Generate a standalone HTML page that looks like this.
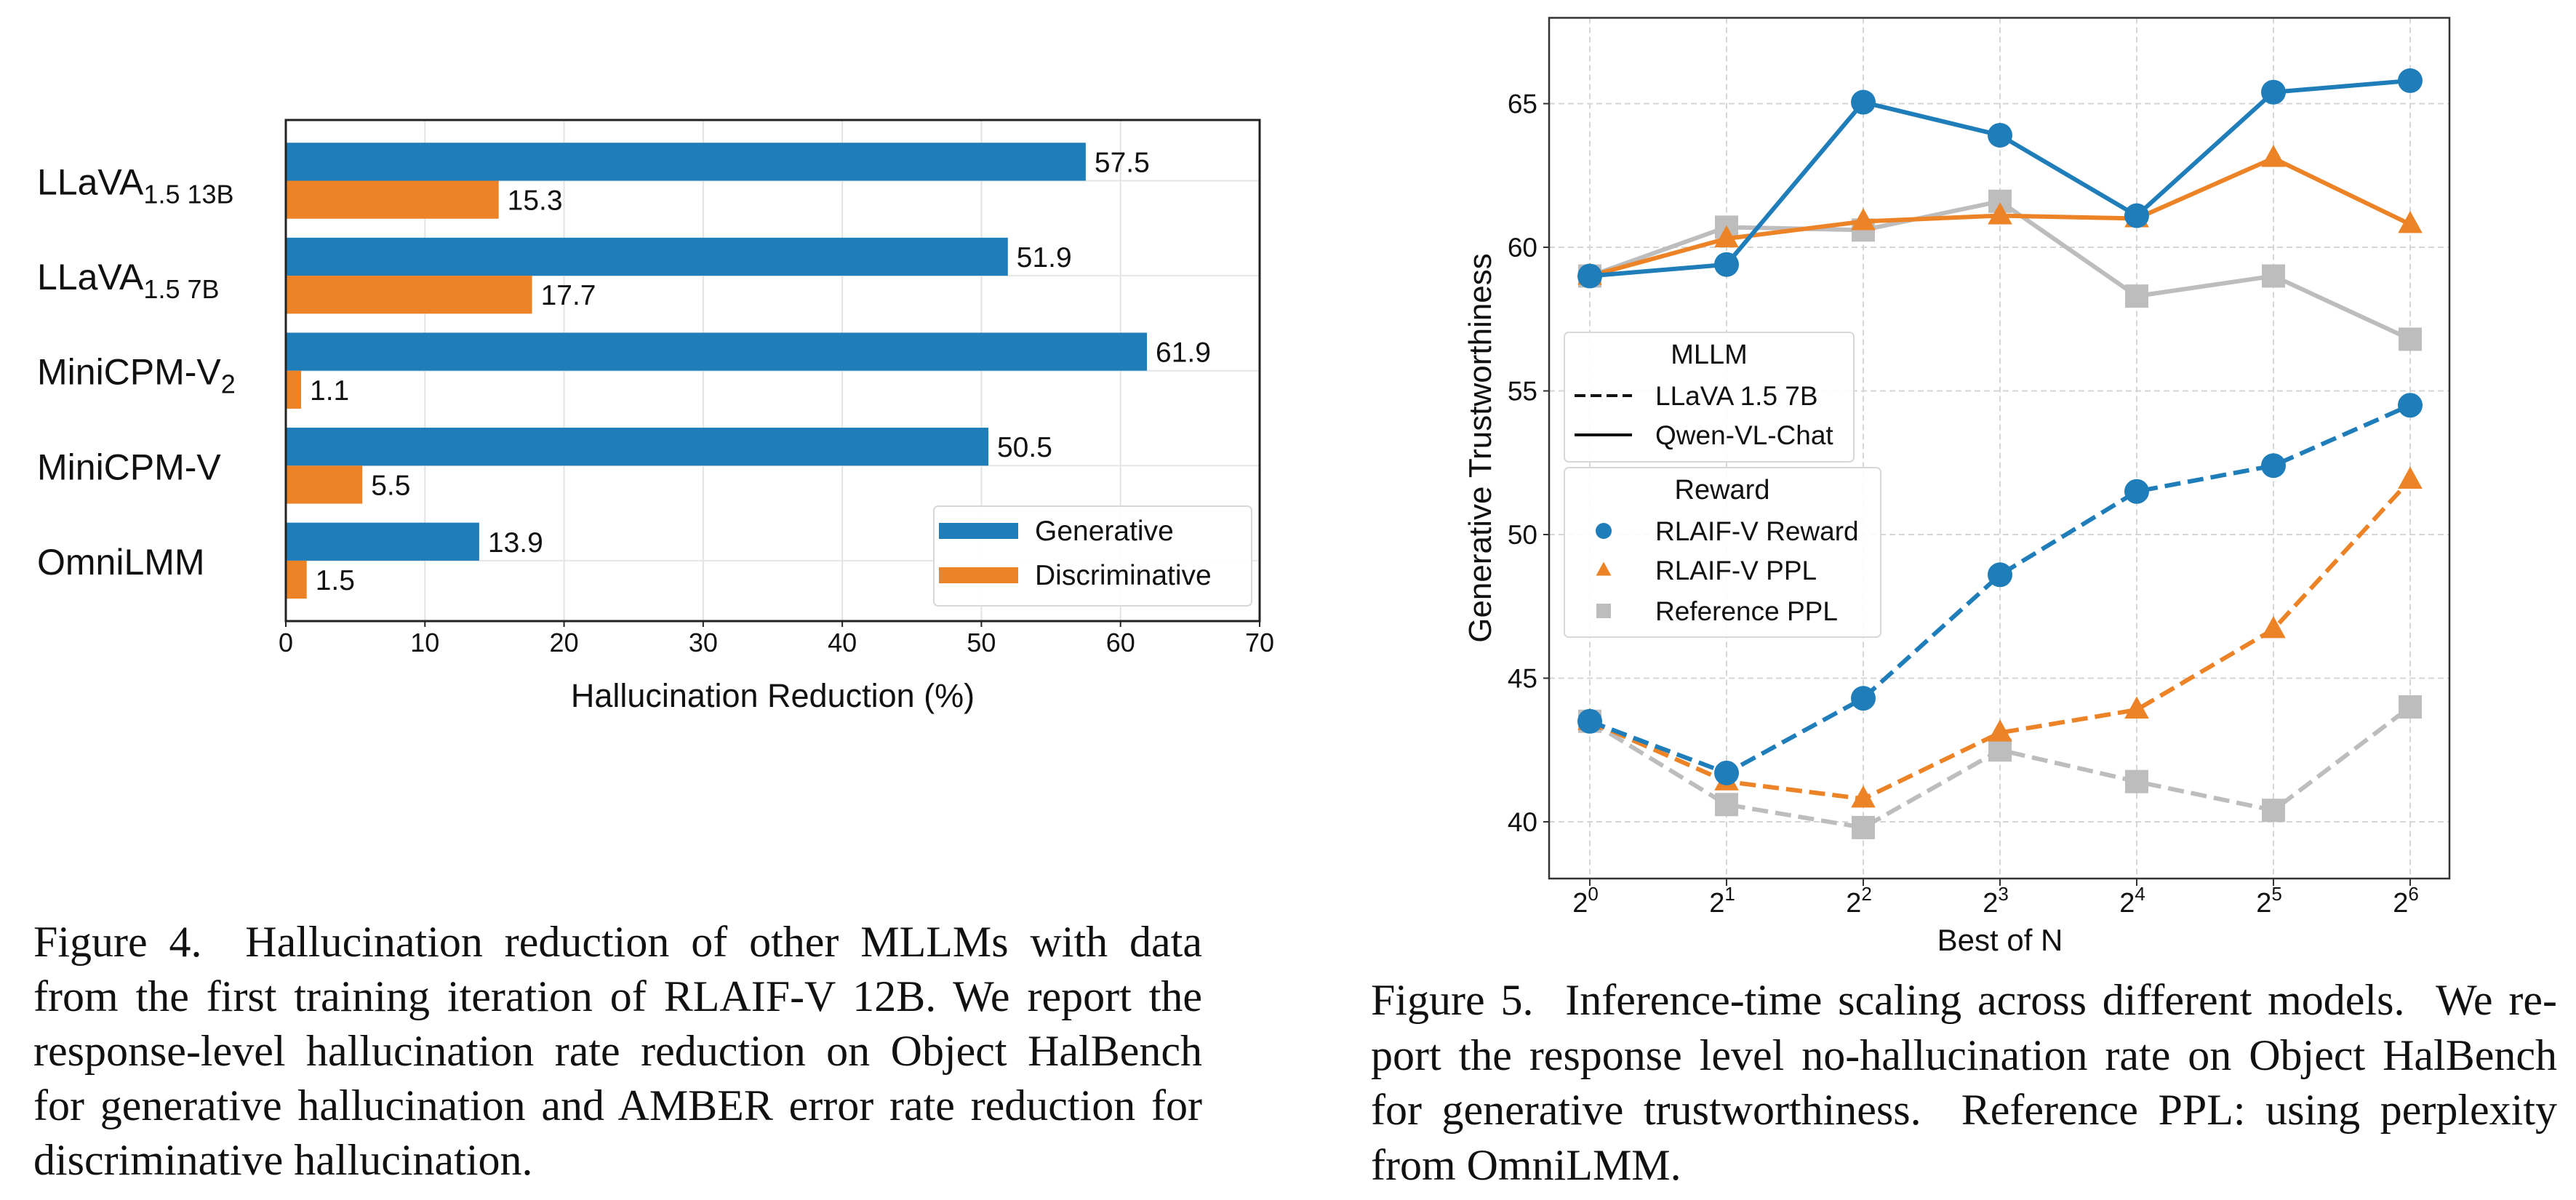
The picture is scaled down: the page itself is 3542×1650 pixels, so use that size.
<!DOCTYPE html>
<html><head><meta charset="utf-8">
<style>
html,body{margin:0;padding:0;background:#fff;}
body{width:3542px;height:1650px;position:relative;overflow:hidden;}
svg{position:absolute;left:0;top:0;}
.cap{position:absolute;font-family:"Liberation Serif",serif;color:#111;}
.cap div{white-space:nowrap;}
.cap .j{text-align:justify;text-align-last:justify;white-space:normal;}
</style></head>
<body>
<svg id="chart" width="3542" height="1650" xmlns="http://www.w3.org/2000/svg"></svg>

<div class="cap" style="left:46px;top:1258px;width:1607px;font-size:60px;line-height:75px;">
<div class="j">Figure 4.&nbsp; Hallucination reduction of other MLLMs with data</div>
<div class="j">from the first training iteration of RLAIF-V 12B. We report the</div>
<div class="j">response-level hallucination rate reduction on Object HalBench</div>
<div class="j">for generative hallucination and AMBER error rate reduction for</div>
<div>discriminative hallucination.</div>
</div>

<div class="cap" style="left:1885px;top:1338px;width:1631px;font-size:60px;line-height:75.5px;">
<div class="j">Figure 5.&nbsp; Inference-time scaling across different models.&nbsp; We re-</div>
<div class="j">port the response level no-hallucination rate on Object HalBench</div>
<div class="j">for generative trustworthiness.&nbsp; Reference PPL: using perplexity</div>
<div>from OmniLMM.</div>
</div>

<script>
// ---------- Figure 4 data ----------
const barCategories = ["LLaVA|1.5 13B", "LLaVA|1.5 7B", "MiniCPM-V|2", "MiniCPM-V|", "OmniLMM|"];
const generativeValues = [57.5, 51.9, 61.9, 50.5, 13.9];
const discriminativeValues = [15.3, 17.7, 1.1, 5.5, 1.5];
const barXTicks = [0, 10, 20, 30, 40, 50, 60, 70];

// ---------- Figure 5 data ----------
const bestOfNExponents = [0, 1, 2, 3, 4, 5, 6];
const yTicks5 = [40, 45, 50, 55, 60, 65];
const qwenReward = [59.0, 59.4, 65.05, 63.9, 61.1, 65.4, 65.8];
const qwenPPL = [59.0, 60.3, 60.9, 61.1, 61.0, 63.1, 60.8];
const qwenRefPPL = [59.0, 60.7, 60.6, 61.6, 58.3, 59.0, 56.8];
const llavaReward = [43.5, 41.7, 44.3, 48.6, 51.5, 52.4, 54.5];
const llavaPPL = [43.5, 41.4, 40.8, 43.1, 43.9, 46.7, 51.9];
const llavaRefPPL = [43.5, 40.6, 39.8, 42.5, 41.4, 40.4, 44.0];

const NS = "http://www.w3.org/2000/svg";
const svg = document.getElementById("chart");
function mk(tag, attrs, parent) {
  const e = document.createElementNS(NS, tag);
  for (const k in attrs) e.setAttribute(k, attrs[k]);
  (parent || svg).appendChild(e);
  return e;
}
const BLUE = "#1f7db9", ORANGE = "#ec8326", GRAY = "#bdbdbd";
const SANS = '"Liberation Sans", "DejaVu Sans", sans-serif';

// ===== Figure 4 =====
const L = {x0: 393, x1: 1732, y0: 165, y1: 854};
const xs4 = v => L.x0 + (v / 70) * (L.x1 - L.x0);
const step4 = 130.6;
const yc4 = i => 248.5 + i * step4;
const bh = 0.4 * step4;

const g4 = mk("g", {});


barXTicks.forEach(t => {
  const l = mk("line", {x1: xs4(t), x2: xs4(t), y1: L.y0, y2: L.y1, stroke: "#e3e3e3", "stroke-width": 2}, g4);
  
  
});
barCategories.forEach((c, i) => {
  const l = mk("line", {x1: L.x0, x2: L.x1, y1: yc4(i), y2: yc4(i), stroke: "#e6e6e6", "stroke-width": 2}, g4);
  
  
});
barCategories.forEach((c, i) => {
  const gb = mk("rect", {x: L.x0, y: yc4(i) - bh, width: xs4(generativeValues[i]) - L.x0, height: bh, fill: BLUE}, g4);
  
  
  const ob = mk("rect", {x: L.x0, y: yc4(i), width: xs4(discriminativeValues[i]) - L.x0, height: bh, fill: ORANGE}, g4);
  
  
  const t1 = mk("text", {x: xs4(generativeValues[i]) + 12, y: yc4(i) - bh / 2 + 14, "font-family": SANS, "font-size": 39, fill: "#111"}, g4);
  t1.textContent = generativeValues[i].toFixed(1);
  
  
  const t2 = mk("text", {x: xs4(discriminativeValues[i]) + 12, y: yc4(i) + bh / 2 + 14, "font-family": SANS, "font-size": 39, fill: "#111"}, g4);
  t2.textContent = discriminativeValues[i].toFixed(1);
  
  
  const parts = c.split("|");
  const ct = mk("text", {x: 51, y: yc4(i) + 19, "font-family": SANS, "font-size": 50, fill: "#111"}, g4);
  
  
  const a = mk("tspan", {}, ct); a.textContent = parts[0];
  if (parts[1]) { const b = mk("tspan", {dy: 12, "font-size": 36}, ct); b.textContent = parts[1]; }
});
const f4 = mk("rect", {x: L.x0, y: L.y0, width: L.x1 - L.x0, height: L.y1 - L.y0, fill: "none", stroke: "#222", "stroke-width": 3}, g4);


barXTicks.forEach(t => {
  mk("line", {x1: xs4(t), x2: xs4(t), y1: L.y1, y2: L.y1 + 8, stroke: "#222", "stroke-width": 2}, g4);
  const tl = mk("text", {x: xs4(t), y: L.y1 + 42, "text-anchor": "middle", "font-family": SANS, "font-size": 36, fill: "#111"}, g4);
  tl.textContent = t;
  
  
});
const xl4 = mk("text", {x: (L.x0 + L.x1) / 2, y: 972, "text-anchor": "middle", "font-family": SANS, "font-size": 45, fill: "#111"}, g4);
xl4.textContent = "Hallucination Reduction (%)";


const lg4 = mk("g", {}, g4);


mk("rect", {x: 1284, y: 696, width: 437, height: 137, rx: 6, fill: "#fff", "fill-opacity": 0.9, stroke: "#d8d8d8", "stroke-width": 2}, lg4);
[["Generative", BLUE, 719], ["Discriminative", ORANGE, 780]].forEach(([n, col, y]) => {
  const e = mk("g", {}, lg4);
  
  
  mk("rect", {x: 1291, y: y, width: 109, height: 22, fill: col}, e);
  const t = mk("text", {x: 1423, y: y + 24, "font-family": SANS, "font-size": 39, fill: "#111"}, e);
  t.textContent = n;
});

// ===== Figure 5 =====
const R = {x0: 2130, x1: 3368, y0: 24.5, y1: 1208};
const xs5 = k => 2186 + k * 188;
const ys5 = v => 1130 - (v - 40) * 39.5;
const g5 = mk("g", {});


bestOfNExponents.forEach(k => {
  const l = mk("line", {x1: xs5(k), x2: xs5(k), y1: R.y0, y2: R.y1, stroke: "#d6d6d6", "stroke-width": 2, "stroke-dasharray": "8,5"}, g5);
  
  
});
yTicks5.forEach(v => {
  const l = mk("line", {x1: R.x0, x2: R.x1, y1: ys5(v), y2: ys5(v), stroke: "#d6d6d6", "stroke-width": 2, "stroke-dasharray": "8,5"}, g5);
  
  
});
function marker(type, cx, cy, col, s, parent) {
  if (type === "circle") return mk("circle", {cx: cx, cy: cy, r: s, fill: col}, parent);
  if (type === "tri") return mk("polygon", {points: `${cx},${cy - s * 1.15} ${cx - s * 1.05},${cy + s * 0.75} ${cx + s * 1.05},${cy + s * 0.75}`, fill: col}, parent);
  return mk("rect", {x: cx - s, y: cy - s, width: 2 * s, height: 2 * s, fill: col}, parent);
}
const series = [
  [qwenRefPPL, GRAY, "square", false, "series-qwen-reference-ppl"],
  [qwenPPL, ORANGE, "tri", false, "series-qwen-rlaifv-ppl"],
  [qwenReward, BLUE, "circle", false, "series-qwen-rlaifv-reward"],
  [llavaRefPPL, GRAY, "square", true, "series-llava-reference-ppl"],
  [llavaPPL, ORANGE, "tri", true, "series-llava-rlaifv-ppl"],
  [llavaReward, BLUE, "circle", true, "series-llava-rlaifv-reward"],
];
series.forEach(([vals, col, m, dashed, name]) => {
  const sg = mk("g", {}, g5);
  
  
  const pts = vals.map((v, i) => xs5(bestOfNExponents[i]) + "," + ys5(v)).join(" ");
  const pl = mk("polyline", {points: pts, fill: "none", stroke: col, "stroke-width": 6, "stroke-linejoin": "round"}, sg);
  if (dashed) pl.setAttribute("stroke-dasharray", "22,10");
  
  
  vals.forEach((v, i) => {
    const mm = marker(m, xs5(bestOfNExponents[i]), ys5(v), col, m === "circle" ? 17 : 16, sg);
    
    
  });
});
const f5 = mk("rect", {x: R.x0, y: R.y0, width: R.x1 - R.x0, height: R.y1 - R.y0, fill: "none", stroke: "#333", "stroke-width": 2.5}, g5);


yTicks5.forEach(v => {
  mk("line", {x1: R.x0 - 8, x2: R.x0, y1: ys5(v), y2: ys5(v), stroke: "#333", "stroke-width": 2}, g5);
  const t = mk("text", {x: R.x0 - 16, y: ys5(v) + 13, "text-anchor": "end", "font-family": SANS, "font-size": 37, fill: "#111"}, g5);
  t.textContent = v;
  
  
});
bestOfNExponents.forEach(k => {
  mk("line", {x1: xs5(k), x2: xs5(k), y1: R.y1, y2: R.y1 + 10, stroke: "#333", "stroke-width": 2}, g5);
  const t = mk("text", {x: xs5(k) - 6, y: 1254, "text-anchor": "middle", "font-family": SANS, "font-size": 38, fill: "#111"}, g5);
  
  
  const a = mk("tspan", {}, t); a.textContent = "2";
  const b = mk("tspan", {dy: -16, "font-size": 26}, t); b.textContent = k;
});
const xl5 = mk("text", {x: 2750, y: 1307, "text-anchor": "middle", "font-family": SANS, "font-size": 42, fill: "#111"}, g5);
xl5.textContent = "Best of N";


const yl5 = mk("text", {x: 0, y: 0, transform: "translate(2050,616) rotate(-90)", "text-anchor": "middle", "font-family": SANS, "font-size": 44, fill: "#111"}, g5);
yl5.textContent = "Generative Trustworthiness";



const lgA = mk("g", {}, g5);


mk("rect", {x: 2151, y: 457, width: 398, height: 178, rx: 6, fill: "#fff", "fill-opacity": 0.9, stroke: "#d8d8d8", "stroke-width": 2}, lgA);
const tA = mk("text", {x: 2350, y: 500, "text-anchor": "middle", "font-family": SANS, "font-size": 38, fill: "#111"}, lgA);
tA.textContent = "MLLM";
[["LLaVA 1.5 7B", true, 544], ["Qwen-VL-Chat", false, 598]].forEach(([n, d, y]) => {
  const e = mk("g", {}, lgA);
  
  
  const l = mk("line", {x1: 2165, x2: 2244, y1: y, y2: y, stroke: "#111", "stroke-width": 4}, e);
  if (d) l.setAttribute("stroke-dasharray", "15,7");
  const t = mk("text", {x: 2276, y: y + 13, "font-family": SANS, "font-size": 37, fill: "#111"}, e);
  t.textContent = n;
});
const lgB = mk("g", {}, g5);


mk("rect", {x: 2151, y: 643, width: 435, height: 233, rx: 6, fill: "#fff", "fill-opacity": 0.9, stroke: "#d8d8d8", "stroke-width": 2}, lgB);
const tB = mk("text", {x: 2368, y: 686, "text-anchor": "middle", "font-family": SANS, "font-size": 38, fill: "#111"}, lgB);
tB.textContent = "Reward";
[["RLAIF-V Reward", BLUE, "circle", 730], ["RLAIF-V PPL", ORANGE, "tri", 784], ["Reference PPL", GRAY, "square", 840]].forEach(([n, col, m, y]) => {
  const e = mk("g", {}, lgB);
  
  
  marker(m, 2205, y, col, m === "circle" ? 11 : 10, e);
  const t = mk("text", {x: 2276, y: y + 13, "font-family": SANS, "font-size": 37, fill: "#111"}, e);
  t.textContent = n;
});
</script>
</body></html>
